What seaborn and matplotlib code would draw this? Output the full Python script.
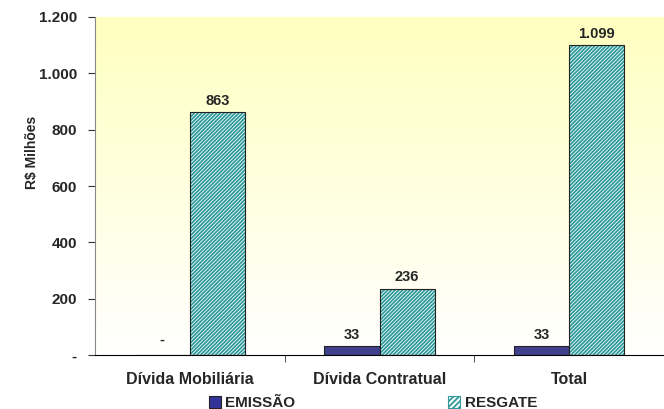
import numpy as np
import pandas as pd
import matplotlib
matplotlib.use('Agg')
import matplotlib.pyplot as plt
from matplotlib.patches import Rectangle, Patch
from matplotlib.colors import LinearSegmentedColormap
import seaborn as sns

categorias = ['Dívida Mobiliária', 'Dívida Contratual', 'Total']
emissao = [0, 33, 33]
resgate = [863, 236, 1099]
rotulos_emissao = ['-', '33', '33']
rotulos_resgate = ['863', '236', '1.099']
y_ticks = [0, 200, 400, 600, 800, 1000, 1200]
y_ticklabels = ['-', '200', '400', '600', '800', '1.000', '1.200']

df = pd.DataFrame({
    'cat': categorias * 2,
    'serie': ['EMISSÃO'] * 3 + ['RESGATE'] * 3,
    'valor': emissao + resgate,
})

sns.set_style('white')
plt.rcParams['font.family'] = ['Liberation Sans', 'DejaVu Sans']
plt.rcParams['hatch.linewidth'] = 1.3

fig = plt.figure(figsize=(6.64, 4.09), dpi=100)
ax = fig.add_axes([95 / 664, 54 / 409, 569 / 664, 338 / 409])

# yellow -> white gradient background
cmap = LinearSegmentedColormap.from_list('bg', ['#ffffff', '#ffffc0'])
grad = np.linspace(0, 1, 256).reshape(-1, 1)
ax.imshow(grad, cmap=cmap, origin='lower', aspect='auto', extent=[0, 1, 0, 1],
          transform=ax.transAxes, zorder=0)

sns.barplot(data=df, x='cat', y='valor', hue='serie', ax=ax, width=0.58,
            palette=['#333399', '#ffffff'], edgecolor='#222222', linewidth=0.8,
            legend=False, zorder=2)

n = len(categorias)
bars_e = ax.patches[:n]
bars_r = ax.patches[n:2 * n]
for p in bars_r:
    p.set_hatch('/////////')
    p.set_edgecolor('#2f9a9a')
    p.set_linewidth(0)
    ax.add_patch(Rectangle((p.get_x(), p.get_y()), p.get_width(), p.get_height(),
                           fill=False, edgecolor='#222222', lw=0.8, zorder=3))

for p, lab in zip(bars_e, rotulos_emissao):
    ax.annotate(lab, (p.get_x() + p.get_width() / 2, p.get_height()),
                xytext=(0, 3 if lab != '-' else 6), textcoords='offset points',
                ha='center', va='bottom', fontsize=10.5, fontweight='bold')
for p, lab in zip(bars_r, rotulos_resgate):
    ax.annotate(lab, (p.get_x() + p.get_width() / 2, p.get_height()),
                xytext=(0, 3), textcoords='offset points',
                ha='center', va='bottom', fontsize=10.5, fontweight='bold')

ax.set_xlim(-0.5, n - 0.5)
ax.set_ylim(0, 1200)
ax.set_yticks(y_ticks)
ax.set_yticklabels(y_ticklabels, fontsize=11, fontweight='bold')
ax.tick_params(axis='y', length=5, direction='out', color='#333333', left=True, pad=8)
ax.set_xticks(range(n))
ax.set_xticklabels(categorias, fontsize=11.5, fontweight='bold')
ax.tick_params(axis='x', which='major', length=0, pad=12)
ax.set_xticks([0.5, 1.5], minor=True)
ax.tick_params(axis='x', which='minor', length=5, direction='out', color='#333333', bottom=True)
ax.set_xlabel('')
ax.set_ylabel('R$ Milhões', fontsize=10, fontweight='bold')
ax.yaxis.set_label_coords(-0.098, 0.60)

for s in ['top', 'right']:
    ax.spines[s].set_visible(False)
ax.spines['left'].set_color('#888888')
ax.spines['bottom'].set_color('#000000')
ax.spines['left'].set_linewidth(0.8)
ax.spines['bottom'].set_linewidth(0.8)

handles = [Patch(facecolor='#333399', edgecolor='#222222', lw=0.8),
           Patch(facecolor='#ffffff', edgecolor='#2f9a9a', hatch='//////', lw=0.8)]
fig.legend(handles, ['EMISSÃO', 'RESGATE'], loc='center', bbox_to_anchor=(373 / 664, 6 / 409),
           ncol=2, frameon=False, handlelength=0.8, handleheight=0.8, handletextpad=0.3,
           columnspacing=10, prop={'size': 11, 'weight': 'bold'})

fig.savefig('out.png', dpi=100)
